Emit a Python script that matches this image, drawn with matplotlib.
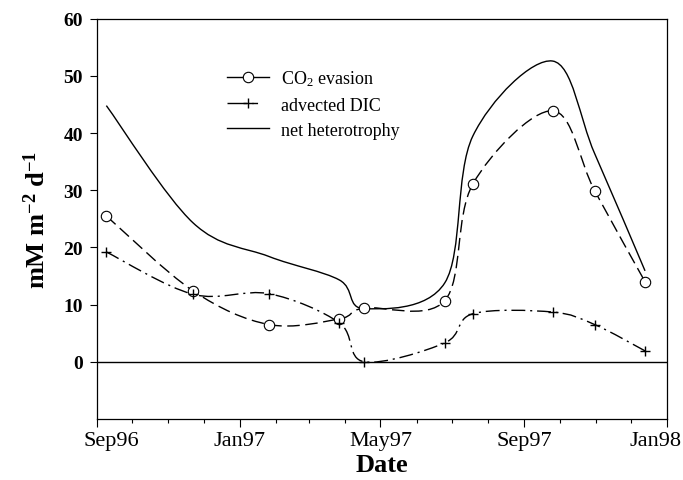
import matplotlib
matplotlib.use("Agg")
import matplotlib.pyplot as plt
import matplotlib.dates as mdates
import matplotlib.transforms as mtransforms
from matplotlib.path import Path
from matplotlib.patches import PathPatch
from matplotlib.lines import Line2D
import numpy as np
import pandas as pd

plt.rcParams["font.family"] = ["Liberation Serif", "DejaVu Serif"]
plt.rcParams["mathtext.fontset"] = "custom"
plt.rcParams["mathtext.rm"] = "Liberation Serif"
plt.rcParams["mathtext.bf"] = "Liberation Serif:bold"
plt.rcParams["mathtext.it"] = "Liberation Serif:italic"

# Sampling dates
dates = ["1996-09-09", "1996-11-22", "1997-01-26", "1997-03-27", "1997-04-17",
         "1997-06-25", "1997-07-19", "1997-09-25", "1997-10-31", "1997-12-13"]
co2_evasion = [25.5, 12.4, 6.5, 7.5, 9.4, 10.7, 31.1, 43.9, 29.9, 14.0]
advected_dic = [19.2, 11.8, 11.9, 6.8, 0.0, 3.3, 8.4, 8.7, 6.5, 1.9]
net_heterotrophy = [44.8, 24.3, 18.4, 14.3, 9.3, 13.8, 39.5, 52.6, 36.4, 15.9]

x_ticks = ["1996-09-01", "1997-01-01", "1997-05-01", "1997-09-01", "1998-01-01"]
y_ticks = [0, 10, 20, 30, 40, 50, 60]

x = mdates.date2num(pd.to_datetime(dates))


def smooth_path(xs, ys):
    # Catmull-Rom curve drawn as cubic Bezier segments through the data points
    pts = np.column_stack([xs, ys])
    p = np.vstack([pts[0], pts, pts[-1]])
    verts = [pts[0]]
    codes = [Path.MOVETO]
    for i in range(1, len(p) - 2):
        c1 = p[i] + (p[i + 1] - p[i - 1]) / 6.0
        c2 = p[i + 1] - (p[i + 2] - p[i]) / 6.0
        verts += [c1, c2, p[i + 1]]
        codes += [Path.CURVE4] * 3
    return Path(verts, codes)


fig = plt.figure(figsize=(6.83, 4.81), dpi=100)
ax = fig.add_axes([0.142, 0.127, 0.835, 0.832])

co2_ls = (0, (9, 4))
dic_ls = (0, (10, 3.5, 1.5, 3.5))

ax.axhline(0, color="black", lw=1.0)

ax.add_patch(PathPatch(smooth_path(x, net_heterotrophy), fill=False,
                       edgecolor="black", lw=1.0))
ax.add_patch(PathPatch(smooth_path(x, co2_evasion), fill=False,
                       edgecolor="black", lw=1.0, linestyle=co2_ls))
ax.add_patch(PathPatch(smooth_path(x, advected_dic), fill=False,
                       edgecolor="black", lw=1.0, linestyle=dic_ls))

ax.plot(x, co2_evasion, linestyle="none", marker="o", ms=7.5,
        mfc="white", mec="black", mew=0.8)
ax.plot(x, advected_dic, linestyle="none", marker="+", ms=7,
        color="black", mew=1.0)

handles = [
    Line2D([], [], color="black", lw=1.0, marker="o",
           ms=7.5, mfc="white", mec="black", mew=0.8),
    Line2D([], [], color="black", lw=1.0, linestyle=(0, (14, 4, 4, 20)),
           marker="+", ms=7, mew=1.0),
    Line2D([], [], color="black", lw=1.0),
]
labels = [r"CO$_2$ evasion", "advected DIC", "net heterotrophy"]
ax.legend(handles, labels, loc="upper left", bbox_to_anchor=(0.228, 0.875),
          frameon=False, fontsize=13, borderpad=0, borderaxespad=0,
          handlelength=2.3, handletextpad=0.7, labelspacing=0.45)

ax.set_xlim(mdates.date2num(pd.Timestamp("1996-09-01")),
            mdates.date2num(pd.Timestamp("1998-01-01")))
ax.set_ylim(-10, 60)

ax.set_xticks(mdates.date2num(pd.to_datetime(x_ticks)))
ax.xaxis.set_major_formatter(mdates.DateFormatter("%b%y"))
ax.xaxis.set_minor_locator(mdates.MonthLocator())
ax.set_yticks(y_ticks)

ax.tick_params(axis="x", which="major", direction="out", length=6, width=0.8,
               labelsize=16, pad=3)
ax.tick_params(axis="x", which="minor", direction="out", length=3, width=0.8)
ax.tick_params(axis="y", which="major", direction="out", length=5, width=0.8,
               labelsize=14, pad=5)
for lab in ax.get_yticklabels():
    lab.set_fontweight("bold")

# end labels are pulled inside the axis span, as in the original
xlabs = ax.get_xticklabels()
xlabs[0].set_transform(xlabs[0].get_transform() +
                       mtransforms.ScaledTranslation(0.14, 0, fig.dpi_scale_trans))
xlabs[-1].set_transform(xlabs[-1].get_transform() +
                        mtransforms.ScaledTranslation(-0.12, 0, fig.dpi_scale_trans))

for sp in ax.spines.values():
    sp.set_linewidth(0.9)

ax.set_xlabel("Date", fontsize=19, fontweight="bold", labelpad=2)
ax.set_ylabel(r"mM m$^{\mathbf{-2}}$ d$^{\mathbf{-1}}$", fontsize=19,
              fontweight="bold", labelpad=10)

fig.savefig("out.png", dpi=100)
